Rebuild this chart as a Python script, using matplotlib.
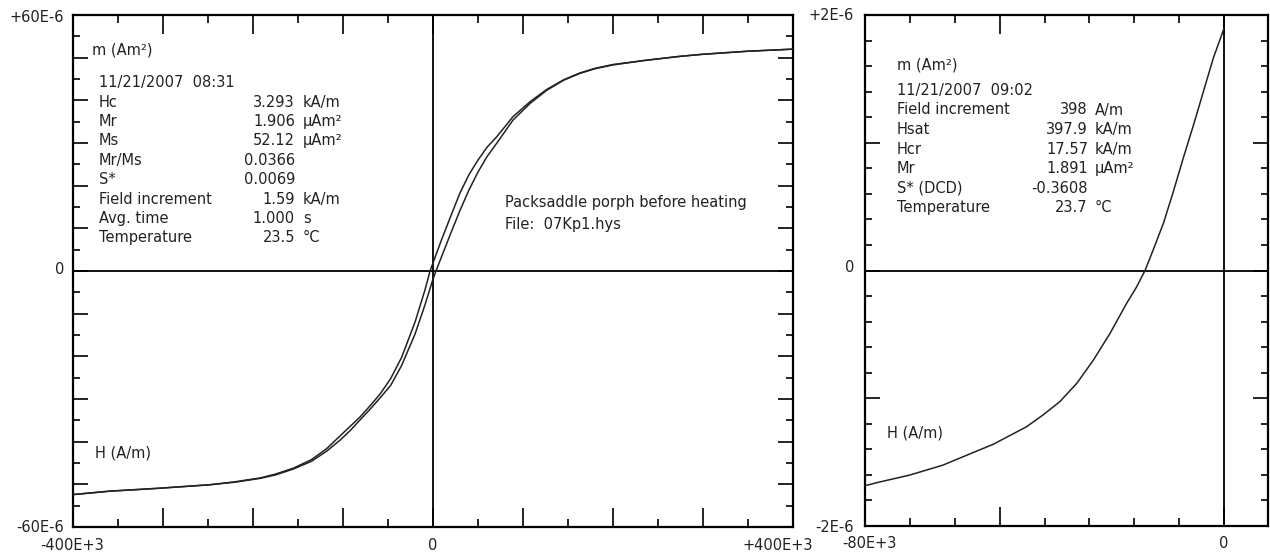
"""Hysteresis loop and DCD backfield curve (Packsaddle porph before heating)."""

import matplotlib.pyplot as plt
from matplotlib.ticker import MultipleLocator

W, H = 1270, 555

# hysteresis loop, field in kA/m, moment in uAm2
H_DESC = [400, 349, 300, 274, 237, 200, 180, 163, 145, 126, 108, 89, 71, 60, 50, 40, 30, 20,
          10, 0, -3.3, -9, -20, -35, -47, -59, -70, -81, -92, -103, -118, -135, -155, -175,
          -192, -220, -248, -303, -359, -400]
M_DESC = [52.0, 51.5, 50.8, 50.3, 49.4, 48.4, 47.5, 46.4, 44.8, 42.5, 39.7, 36.2, 31.5, 29.0,
          26.0, 22.6, 18.3, 13.0, 7.6, 1.9, 0.0, -4.5, -12.0, -20.3, -25.2, -28.9, -31.6,
          -34.2, -36.4, -38.6, -41.6, -44.2, -46.2, -47.6, -48.5, -49.4, -50.1, -50.9, -51.6,
          -52.4]
H_ASC = [-400, -359, -303, -248, -220, -192, -175, -155, -135, -118, -103, -92, -81, -70, -59,
         -47, -35, -20, -9, 0, 3.3, 10, 20, 30, 40, 50, 60, 71, 89, 108, 126, 145, 163, 180,
         200, 237, 274, 300, 349, 400]
M_ASC = [-52.4, -51.6, -50.9, -50.1, -49.5, -48.6, -47.8, -46.4, -44.6, -42.2, -39.6, -37.4,
         -34.9, -32.4, -29.8, -26.8, -22.2, -14.8, -8.0, -1.9, 0.0, 3.6, 9.0, 14.2, 19.0,
         23.2, 26.8, 30.0, 35.4, 39.3, 42.3, 44.7, 46.3, 47.4, 48.3, 49.4, 50.3, 50.8, 51.5,
         52.0]

# DCD backfield curve, field in kA/m, moment in uAm2
H_DCD = [-80, -77.4, -70.0, -62.6, -55.9, -51.4, -44.0, -40.3, -36.6, -32.8, -29.1, -25.4,
         -21.7, -19.5, -17.6, -15.8, -13.5, -11.3, -9.1, -6.8, -4.6, -2.4, 0]
M_DCD = [-1.685, -1.661, -1.601, -1.523, -1.425, -1.360, -1.223, -1.130, -1.027, -0.883,
         -0.701, -0.492, -0.257, -0.130, 0.0, 0.160, 0.370, 0.617, 0.878, 1.139, 1.400,
         1.661, 1.896]

LOOP_NAMES = ["Hc", "Mr", "Ms", "Mr/Ms", "S*", "Field increment", "Avg. time", "Temperature"]
LOOP_VALUES = ["3.293", "1.906", "52.12", "0.0366", "0.0069", "1.59", "1.000", "23.5"]
LOOP_UNITS = ["kA/m", "µAm²", "µAm²", "", "", "kA/m", "s", "°C"]

DCD_NAMES = ["Field increment", "Hsat", "Hcr", "Mr", "S* (DCD)", "Temperature"]
DCD_VALUES = ["398", "397.9", "17.57", "1.891", "-0.3608", "23.7"]
DCD_UNITS = ["A/m", "kA/m", "kA/m", "µAm²", "", "°C"]

INK = "#222222"
FS = 10.5


def px_text(fig, x, y, s, **kw):
    # place text by pixel position of the 1270x555 picture
    kw.setdefault("fontsize", FS)
    kw.setdefault("color", INK)
    kw.setdefault("va", "center")
    fig.text(x / W, 1 - y / H, s, **kw)


def frame(fig, x0, x1, y0, y1):
    ax = fig.add_axes([x0 / W, 1 - y1 / H, (x1 - x0) / W, (y1 - y0) / H])
    for sp in ax.spines.values():
        sp.set_linewidth(1.6)
        sp.set_color("black")
    ax.tick_params(which="both", direction="in", top=True, right=True,
                   labelbottom=False, labelleft=False, color="black", width=1.2)
    ax.tick_params(axis="x", which="major", length=14)
    ax.tick_params(axis="x", which="minor", length=6)
    ax.tick_params(axis="y", which="major", length=11)
    ax.tick_params(axis="y", which="minor", length=5)
    ax.axhline(0, color="black", lw=1.3, zorder=1)
    ax.axvline(0, color="black", lw=1.3, zorder=1)
    return ax


def main() -> None:
    fig = plt.figure(figsize=(W / 100, H / 100), dpi=100)
    fig.patch.set_facecolor("white")

    # left: hysteresis loop
    ax = frame(fig, 73, 793, 15, 527)
    ax.plot(H_DESC, M_DESC, color=INK, lw=1.1, zorder=3)
    ax.plot(H_ASC, M_ASC, color=INK, lw=1.1, zorder=3)
    ax.set_xlim(-400, 400)
    ax.set_ylim(-60, 60)
    ax.xaxis.set_major_locator(MultipleLocator(100))
    ax.xaxis.set_minor_locator(MultipleLocator(50))
    ax.yaxis.set_major_locator(MultipleLocator(10))
    ax.yaxis.set_minor_locator(MultipleLocator(5))

    # right: DCD backfield
    ax2 = frame(fig, 865, 1268, 15, 526)
    ax2.plot(H_DCD, M_DCD, color=INK, lw=1.1, zorder=3)
    ax2.set_xlim(-80, 9.8)
    ax2.set_ylim(-2, 2)
    ax2.xaxis.set_major_locator(MultipleLocator(50))
    ax2.xaxis.set_minor_locator(MultipleLocator(10))
    ax2.yaxis.set_major_locator(MultipleLocator(1))
    ax2.yaxis.set_minor_locator(MultipleLocator(0.2))

    # axis end labels
    px_text(fig, 64, 17, "+60E-6", ha="right")
    px_text(fig, 64, 270, "0", ha="right")
    px_text(fig, 64, 528, "-60E-6", ha="right")
    px_text(fig, 72, 545, "-400E+3", ha="center")
    px_text(fig, 433, 545, "0", ha="center")
    px_text(fig, 813, 545, "+400E+3", ha="right")
    px_text(fig, 854, 15, "+2E-6", ha="right")
    px_text(fig, 854, 268, "0", ha="right")
    px_text(fig, 854, 527, "-2E-6", ha="right")
    px_text(fig, 869, 543, "-80E+3", ha="center")
    px_text(fig, 1224, 543, "0", ha="center")

    # loop info block
    px_text(fig, 92, 50, "m (Am²)")
    px_text(fig, 99, 82.7, "11/21/2007  08:31")
    for i, (n, v, u) in enumerate(zip(LOOP_NAMES, LOOP_VALUES, LOOP_UNITS)):
        y = 102.1 + 19.4 * i
        px_text(fig, 99, y, n)
        px_text(fig, 295, y, v, ha="right")
        px_text(fig, 303, y, u)
    px_text(fig, 505, 202, "Packsaddle porph before heating")
    px_text(fig, 505, 224, "File:  07Kp1.hys")
    px_text(fig, 95, 453, "H (A/m)")

    # DCD info block
    px_text(fig, 897, 65, "m (Am²)")
    px_text(fig, 897, 90, "11/21/2007  09:02")
    for i, (n, v, u) in enumerate(zip(DCD_NAMES, DCD_VALUES, DCD_UNITS)):
        y = 110 + 19.6 * i
        px_text(fig, 897, y, n)
        px_text(fig, 1088, y, v, ha="right")
        px_text(fig, 1095, y, u)
    px_text(fig, 887, 433, "H (A/m)")

    fig.savefig("out.png", dpi=100, facecolor="white")
    plt.close(fig)


if __name__ == "__main__":
    main()
